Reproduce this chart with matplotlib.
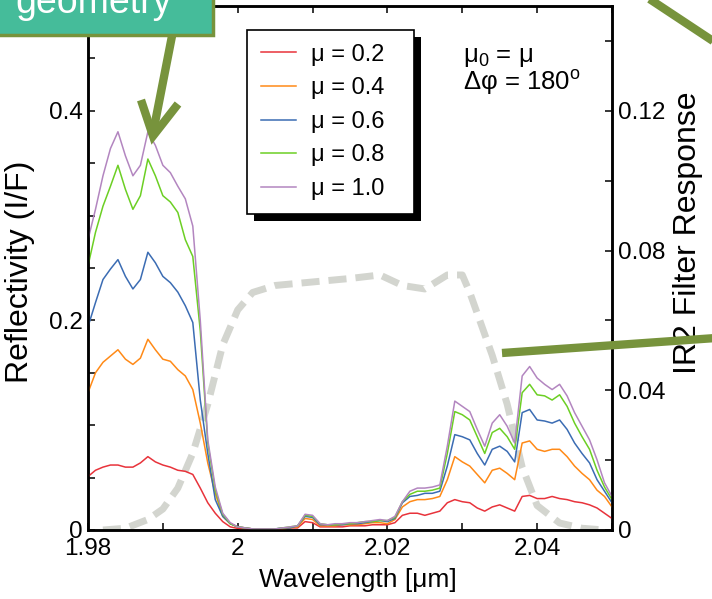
"""Reflectivity spectra for several viewing geometries with the IR2 filter response."""

import matplotlib

matplotlib.use("Agg")
import matplotlib.pyplot as plt
import numpy as np
from matplotlib.lines import Line2D
from matplotlib.patches import Rectangle
from matplotlib.ticker import FuncFormatter, MultipleLocator

plt.rcParams["font.family"] = ["Liberation Sans", "DejaVu Sans"]
plt.rcParams["mathtext.fontset"] = "custom"
plt.rcParams["mathtext.rm"] = "Liberation Sans"
plt.rcParams["mathtext.it"] = "Liberation Sans:italic"

# Wavelength grid (um), 1.980 .. 2.050 in 0.001 steps
wavelength = np.linspace(1.980, 2.050, 71)

# Reflectivity (I/F) for each mu
refl_mu02 = [
    0.051, 0.057, 0.060, 0.062, 0.062, 0.060, 0.060, 0.064, 0.070, 0.065, 0.062,
    0.060, 0.057, 0.056, 0.053, 0.040, 0.026, 0.016, 0.008, 0.003, 0.0015,
    0.001, 0.001, 0.0005, 0.0005, 0.0005, 0.001, 0.002, 0.002, 0.008, 0.007,
    0.003, 0.003, 0.003, 0.003, 0.004, 0.004, 0.004, 0.005, 0.005, 0.005, 0.007,
    0.014, 0.016, 0.016, 0.014, 0.016, 0.018, 0.026, 0.029, 0.027, 0.026,
    0.021, 0.018, 0.022, 0.024, 0.021, 0.018, 0.032, 0.033, 0.030, 0.030,
    0.032, 0.030, 0.029, 0.027, 0.026, 0.024, 0.021, 0.016, 0.011,
]
refl_mu04 = [
    0.131, 0.150, 0.160, 0.166, 0.172, 0.163, 0.158, 0.164, 0.182, 0.172, 0.163,
    0.161, 0.153, 0.147, 0.134, 0.102, 0.064, 0.035, 0.013, 0.006, 0.003,
    0.002, 0.001, 0.001, 0.001, 0.001, 0.001, 0.002, 0.003, 0.011, 0.010,
    0.004, 0.004, 0.004, 0.005, 0.005, 0.005, 0.006, 0.007, 0.007, 0.006, 0.010,
    0.022, 0.027, 0.029, 0.029, 0.030, 0.032, 0.048, 0.070, 0.065, 0.061,
    0.053, 0.045, 0.057, 0.059, 0.054, 0.048, 0.083, 0.085, 0.077, 0.075,
    0.077, 0.077, 0.070, 0.061, 0.054, 0.048, 0.038, 0.032, 0.022,
]
refl_mu06 = [
    0.194, 0.217, 0.239, 0.249, 0.258, 0.242, 0.230, 0.239, 0.265, 0.255, 0.242,
    0.236, 0.227, 0.214, 0.198, 0.124, 0.073, 0.029, 0.013, 0.006, 0.003,
    0.002, 0.001, 0.001, 0.001, 0.001, 0.002, 0.002, 0.004, 0.013, 0.012,
    0.005, 0.005, 0.005, 0.005, 0.006, 0.006, 0.007, 0.008, 0.009, 0.008, 0.011,
    0.026, 0.032, 0.033, 0.035, 0.035, 0.037, 0.061, 0.091, 0.089, 0.086,
    0.073, 0.062, 0.077, 0.080, 0.075, 0.065, 0.112, 0.115, 0.105, 0.104,
    0.102, 0.105, 0.096, 0.083, 0.073, 0.064, 0.048, 0.037, 0.026,
]
refl_mu08 = [
    0.252, 0.284, 0.309, 0.328, 0.348, 0.325, 0.306, 0.319, 0.354, 0.338, 0.319,
    0.313, 0.303, 0.277, 0.261, 0.190, 0.083, 0.038, 0.015, 0.006, 0.003,
    0.002, 0.001, 0.001, 0.001, 0.001, 0.002, 0.003, 0.004, 0.014, 0.013,
    0.006, 0.005, 0.005, 0.006, 0.006, 0.007, 0.008, 0.008, 0.009, 0.009, 0.012,
    0.027, 0.034, 0.037, 0.037, 0.038, 0.040, 0.073, 0.113, 0.110, 0.105,
    0.089, 0.073, 0.093, 0.097, 0.089, 0.077, 0.131, 0.139, 0.129, 0.128,
    0.124, 0.129, 0.118, 0.102, 0.089, 0.077, 0.057, 0.041, 0.029,
]
refl_mu10 = [
    0.277, 0.306, 0.338, 0.364, 0.380, 0.357, 0.338, 0.348, 0.380, 0.367, 0.348,
    0.341, 0.328, 0.316, 0.290, 0.200, 0.086, 0.041, 0.016, 0.007, 0.003,
    0.002, 0.001, 0.001, 0.001, 0.001, 0.002, 0.003, 0.004, 0.015, 0.014,
    0.006, 0.005, 0.006, 0.006, 0.007, 0.007, 0.008, 0.009, 0.010, 0.009, 0.013,
    0.027, 0.037, 0.040, 0.040, 0.041, 0.043, 0.080, 0.123, 0.118, 0.113,
    0.096, 0.080, 0.102, 0.110, 0.099, 0.083, 0.147, 0.156, 0.145, 0.139,
    0.134, 0.139, 0.128, 0.112, 0.099, 0.086, 0.067, 0.045, 0.032,
]

series_labels = ["μ = 0.2", "μ = 0.4", "μ = 0.6", "μ = 0.8", "μ = 1.0"]
series_colors = ["#e8333b", "#ff8a17", "#3b6cb3", "#6ccf24", "#b386c0"]

# IR2 filter response (right axis)
filter_wl = [
    1.982, 1.985, 1.988, 1.990, 1.992, 1.994, 1.996, 1.998, 2.000, 2.002,
    2.005, 2.010, 2.015, 2.019, 2.022, 2.025, 2.028, 2.030, 2.031, 2.032,
    2.034, 2.036, 2.038, 2.040, 2.043, 2.046, 2.049,
]
filter_resp = [
    0.0, 0.0005, 0.003, 0.006, 0.012, 0.022, 0.036, 0.053, 0.063, 0.068,
    0.070, 0.071, 0.072, 0.073, 0.070, 0.069, 0.073, 0.073, 0.068, 0.062,
    0.050, 0.036, 0.018, 0.007, 0.002, 0.0005, 0.0,
]

W, H = 712, 599
fig = plt.figure(figsize=(W / 100, H / 100), dpi=100)
ax = fig.add_axes([88 / W, 1 - 530 / H, 524 / W, 524 / H])
ax2 = ax.twinx()
ax.set_zorder(ax2.get_zorder() + 1)
ax.patch.set_visible(False)

# Filter curve behind the spectra
ax2.plot(filter_wl, filter_resp, color="#d3d5cf", lw=5, dashes=(2.6, 1.3),
         dash_capstyle="butt")

all_series = [refl_mu02, refl_mu04, refl_mu06, refl_mu08, refl_mu10]
for vals, lab, col in zip(all_series, series_labels, series_colors):
    ax.plot(wavelength, vals, color=col, lw=1.1, label=lab)

ax.set_xlim(1.98, 2.05)
ax.set_ylim(0, 0.5)
ax2.set_ylim(0, 0.15)

fmt = FuncFormatter(lambda v, p: f"{v:g}")
ax.xaxis.set_major_locator(MultipleLocator(0.02))
ax.xaxis.set_minor_locator(MultipleLocator(0.01))
ax.xaxis.set_major_formatter(fmt)
ax.yaxis.set_major_locator(MultipleLocator(0.2))
ax.yaxis.set_minor_locator(MultipleLocator(0.05))
ax.yaxis.set_major_formatter(fmt)
ax2.yaxis.set_major_locator(MultipleLocator(0.04))
ax2.yaxis.set_minor_locator(MultipleLocator(0.02))
ax2.yaxis.set_major_formatter(fmt)

ax.tick_params(which="both", direction="in", length=5, width=1.1,
               top=True, right=False, labelsize=17.5)
ax.tick_params(axis="x", pad=6)
ax.tick_params(axis="y", pad=4)
ax2.tick_params(which="both", direction="in", length=5, width=1.1,
                labelsize=17.5, pad=4)
for a in (ax, ax2):
    for sp in a.spines.values():
        sp.set_linewidth(1.8)

ax.set_xlabel("Wavelength [μm]", fontsize=19)
ax.xaxis.set_label_coords(0.515, -0.073)
ax.set_ylabel("Reflectivity (I/F)", fontsize=23, va="center")
ax.yaxis.set_label_coords(-0.130, 0.492)
ax2.set_ylabel("IR2 Filter Response", fontsize=23, va="center")
ax2.yaxis.set_label_coords(1.145, 0.567)

leg = ax.legend(
    loc="upper left",
    bbox_to_anchor=(159 / 524, (530 - 211) / 524, 167 / 524, 181 / 524),
    mode="expand",
    fontsize=17,
    fancybox=False,
    edgecolor="black",
    framealpha=1,
    handlelength=1.5,
    handletextpad=0.65,
    labelspacing=0.49,
    borderpad=0.58,
    borderaxespad=0,
)
leg.get_frame().set_linewidth(1.2)

ax.text(0.715, 0.893, r"μ$_0$ = μ", transform=ax.transAxes, fontsize=18.5,
        va="baseline")
ax.text(0.715, 0.84, r"Δφ = 180$^\mathrm{o}$", transform=ax.transAxes,
        fontsize=18.5, va="baseline")

# Black drop shadow behind the legend
fig.canvas.draw()
bb = leg.get_frame().get_window_extent().transformed(fig.transFigure.inverted())
fig.add_artist(Rectangle((bb.x0 + 7 / W, bb.y0 - 7 / H), bb.width, bb.height,
                         transform=fig.transFigure, facecolor="black",
                         edgecolor="none", zorder=0.5))


def px(x, y):
    """Pixel position (from top-left) to figure fraction."""
    return x / W, 1 - y / H


# Slide overlay: label box and pointers
x0, y0 = px(-10, 35)
fig.add_artist(Rectangle((x0, y0), 223 / W, 45 / H, transform=fig.transFigure,
                         facecolor="#45bc9a", edgecolor="#77933c", lw=2.5,
                         zorder=10))
fig.text(15 / W, 1 - 13 / H, "geometry", color="white", fontsize=27,
         va="baseline", zorder=11)

olive = "#77933c"
pointers = [
    [(172, 36), (153, 133)],
    [(141, 100), (153, 136), (178, 104)],
    [(645, -4), (716, 43)],
    [(502, 353), (716, 338)],
]
for pts in pointers:
    xs, ys = zip(*[px(x, y) for x, y in pts])
    fig.add_artist(Line2D(xs, ys, transform=fig.transFigure, color=olive,
                          lw=6, solid_capstyle="butt", solid_joinstyle="miter",
                          zorder=12))

fig.savefig("out.png", dpi=100)
plt.close(fig)
